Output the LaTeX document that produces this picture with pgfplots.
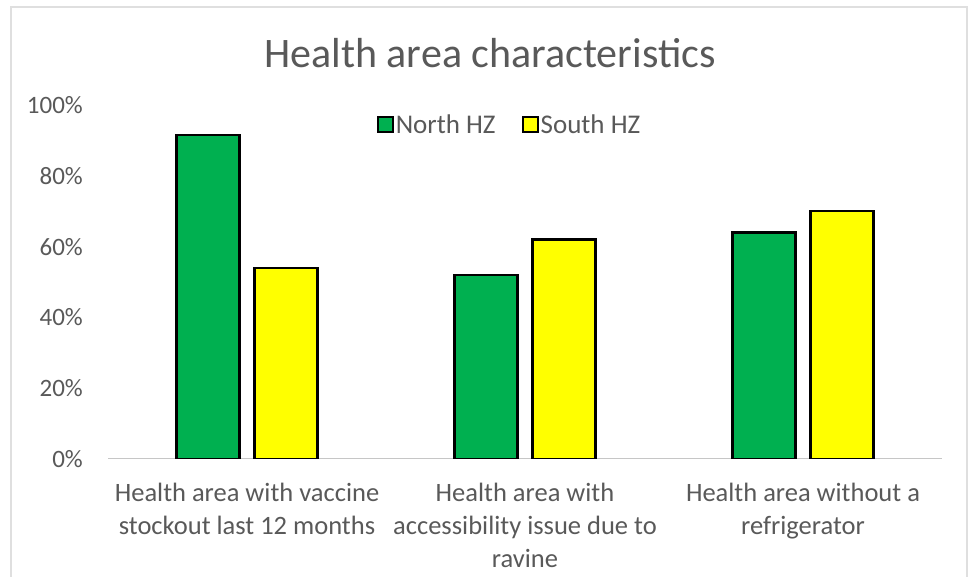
\documentclass[border=0pt]{standalone}
\usepackage{fontspec}
\setmainfont{Carlito}
\usepackage{pgfplots}
\pgfplotsset{compat=1.18}
\definecolor{exgreen}{HTML}{00B050}
\definecolor{exyellow}{HTML}{FFFF00}
\definecolor{txtgray}{HTML}{595959}
\pgfplotsset{sqlegend/.style={legend image code/.code={\draw[fill=#1, draw=black, line width=2pt] (0pt,-7.5pt) rectangle (15pt,7.5pt);}}}
\begin{document}
\begin{tikzpicture}[x=1pt,y=1pt]
\useasboundingbox (0,0) rectangle (972,577);
\draw[gray!25, line width=2pt] (11,-2) -- (11,570) -- (967,570) -- (967,-2);
\node[anchor=base, text=txtgray, font=\fontsize{42}{50}\selectfont] at (490,509) {Health area characteristics};
\begin{axis}[
  at={(108pt,118pt)}, anchor=south west,
  scale only axis, width=834pt, height=354pt,
  xmin=-0.5, xmax=2.5, ymin=0, ymax=1,
  xtick={0,1,2},
  xticklabels={{Health area with vaccine\\stockout last 12 months},{Health area with\\accessibility issue due to\\ravine},{Health area without a\\refrigerator}},
  ytick={0,0.2,0.4,0.6,0.8,1},
  yticklabels={0\%,20\%,40\%,60\%,80\%,100\%},
  major tick length=0pt,
  axis lines*=left,
  y axis line style={draw=none},
  x axis line style={draw=gray!45, line width=1pt, -},
  /pgf/number format/assume math mode=true,
  yticklabel style={font=\fontsize{25}{30}\selectfont, text=txtgray, anchor=east, inner sep=0pt, xshift=-25pt},
  xticklabel style={font=\fontsize{26.5}{33}\selectfont, text=txtgray, align=center, anchor=north, inner sep=0pt, yshift=-24pt},
  legend columns=2,
  legend style={at={(0.322,0.9435)}, anchor=west, draw=none, fill=none, font=\fontsize{27}{30}\selectfont, text=txtgray, inner sep=0pt, /tikz/every even column/.append style={column sep=24pt}},
]
\addplot[ybar, bar width=63pt, bar shift=-39pt, fill=exgreen, draw=black, line width=2.2pt, sqlegend=exgreen] coordinates {(0,0.915) (1,0.52) (2,0.64)};
\addplot[ybar, bar width=63pt, bar shift=39pt, fill=exyellow, draw=black, line width=2.2pt, sqlegend=exyellow] coordinates {(0,0.54) (1,0.62) (2,0.70)};
\legend{North HZ, South HZ}
\end{axis}
\end{tikzpicture}
\end{document}
